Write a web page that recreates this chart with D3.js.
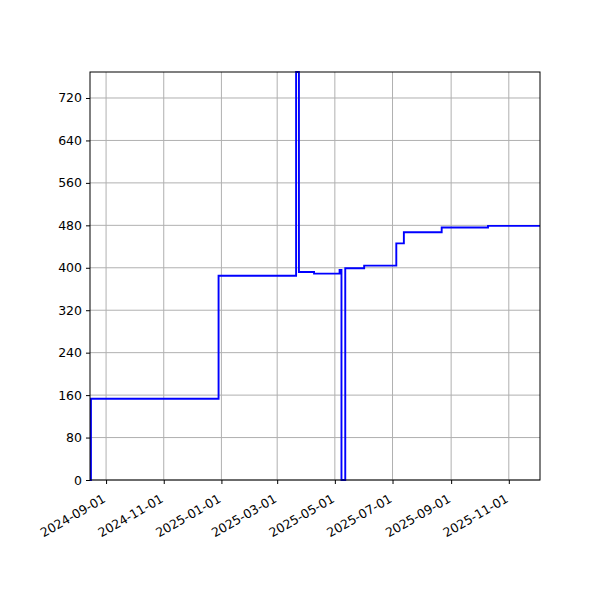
<!DOCTYPE html>
<meta charset="utf-8">
<script src="https://d3js.org/d3.v7.min.js"></script>
<style>
  body { margin: 0; background: #fff; }
  text { font-family: "DejaVu Sans", sans-serif; }
</style>
<div id="chart"></div>
<script>
// step data: date of change and value from that date on
const dates = ["2024-08-15", "2024-08-16", "2024-12-29", "2025-03-21", "2025-03-24",
    "2025-04-09", "2025-05-06", "2025-05-08", "2025-05-12", "2025-06-01",
    "2025-07-05", "2025-07-13", "2025-08-22", "2025-10-10", "2025-12-04"];
const values = [0, 153, 385, 769, 392, 389, 396, 0, 399, 404, 446, 467, 476, 479, 479];
const yTicks = [0, 80, 160, 240, 320, 400, 480, 560, 640, 720];
const xTickDates = ["2024-09-01", "2024-11-01", "2025-01-01", "2025-03-01",
    "2025-05-01", "2025-07-01", "2025-09-01", "2025-11-01"];

const parse = d3.timeParse("%Y-%m-%d");
const data = dates.map((d, i) => ({date: parse(d), value: values[i]}));

const margin = {top: 72, right: 60, bottom: 120, left: 90},
    width = 600 - margin.left - margin.right,
    height = 600 - margin.top - margin.bottom;

const svg = d3.select("#chart")
    .append("svg")
    .attr("width", 600)
    .attr("height", 600)
    .append("g")
    .attr("transform", `translate(${margin.left},${margin.top})`);

const x = d3.scaleTime()
    .domain(d3.extent(data, d => d.date))
    .range([0, width]);

const y = d3.scaleLinear()
    .domain([0, d3.max(values)])
    .range([height, 0]);

// grid
svg.append("g")
    .selectAll("line")
    .data(xTickDates.map(parse))
    .join("line")
    .attr("x1", d => x(d)).attr("x2", d => x(d))
    .attr("y1", 0).attr("y2", height)
    .attr("stroke", "#b0b0b0").attr("stroke-width", 1);

svg.append("g")
    .selectAll("line")
    .data(yTicks)
    .join("line")
    .attr("x1", 0).attr("x2", width)
    .attr("y1", d => y(d)).attr("y2", d => y(d))
    .attr("stroke", "#b0b0b0").attr("stroke-width", 1);

// line
const line = d3.line()
    .curve(d3.curveStepAfter)
    .x(d => x(d.date))
    .y(d => y(d.value));

svg.append("path")
    .datum(data)
    .attr("fill", "none")
    .attr("stroke", "#0000ff")
    .attr("stroke-width", 1.9)
    .attr("d", line);

// axes
const xAxis = svg.append("g")
    .attr("transform", `translate(0,${height})`)
    .call(d3.axisBottom(x)
        .tickValues(xTickDates.map(parse))
        .tickFormat(d3.timeFormat("%Y-%m-%d"))
        .tickSizeOuter(0).tickSize(4));
xAxis.select(".domain").remove();
xAxis.selectAll("text")
    .attr("font-size", 12.5)
    .attr("fill", "#000")
    .attr("y", 0).attr("dy", "-0.25em")
    .attr("transform", "translate(1.5,24) rotate(-30)")
    .style("text-anchor", "end");

const yAxis = svg.append("g")
    .call(d3.axisLeft(y)
        .tickValues(yTicks)
        .tickSizeOuter(0).tickSize(4)
        .tickPadding(4));
yAxis.select(".domain").remove();
yAxis.selectAll("text").attr("font-size", 12.5).attr("fill", "#000");

svg.selectAll(".tick line").attr("stroke", "#000");

// frame
svg.append("rect")
    .attr("width", width).attr("height", height)
    .attr("fill", "none").attr("stroke", "#000").attr("stroke-width", 1);
</script>
